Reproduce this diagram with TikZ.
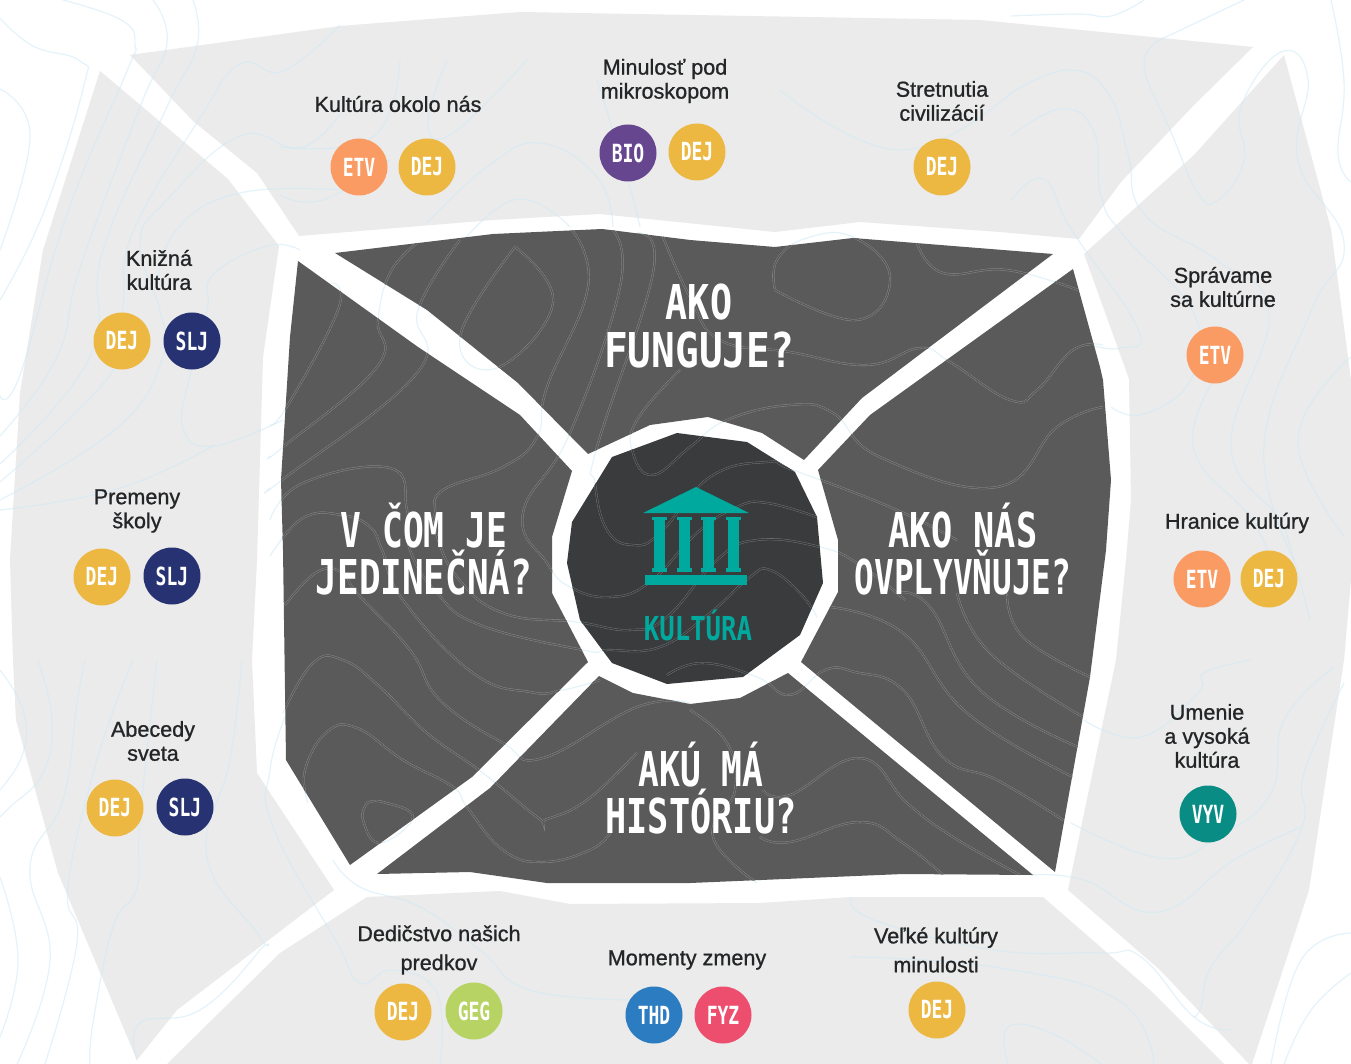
\documentclass[tikz,border=0pt]{standalone}
\usepackage{fontspec}
\setmainfont{Liberation Sans}[FakeBold=0.9]
\newfontfamily\disp{DejaVu Sans Mono}[FakeStretch=0.72]
\definecolor{grey}{HTML}{EBEBEB}
\definecolor{darkp}{HTML}{595A59}
\definecolor{centerp}{HTML}{3A3B3D}
\definecolor{teal}{HTML}{00A99D}
\definecolor{cETV}{HTML}{FA9B63}
\definecolor{cDEJ}{HTML}{ECB842}
\definecolor{cBIO}{HTML}{66478F}
\definecolor{cSLJ}{HTML}{273272}
\definecolor{cVYV}{HTML}{088C84}
\definecolor{cGEG}{HTML}{B7D364}
\definecolor{cTHD}{HTML}{2B7CC1}
\definecolor{cFYZ}{HTML}{EE4E6E}
\definecolor{ink}{HTML}{232527}
\definecolor{faint}{HTML}{CFE9F5}
\tikzset{
  lbl/.style={inner sep=0pt,align=center,text=ink,font=\fontsize{21.6}{24}\selectfont},
  lblwide/.style={lbl,font=\fontsize{21.6}{29}\selectfont},
  head/.style={inner sep=0pt,align=center,text=white,font=\disp\bfseries\fontsize{48}{47.5}\selectfont},
  badge/.style={circle,minimum size=#1,inner sep=0pt,text=white,font=\disp\bfseries\fontsize{25}{25}\selectfont},
  badge/.default=57pt,
}
\newcommand\plotc[1]{\draw[cl] plot[smooth,tension=.75] coordinates {#1};}
\newcommand\darkc{%
\plotc{(515,247)(553,303)(497,368)(460,337)(515,247)}
\plotc{(572,230)(588,287)(547,387)(537,437)(503,467)(443,490)(435,513)(435,530)(457,577)(503,613)(577,622)(630,630)(667,617)(717,560)(757,540)(820,547)(860,565)(905,600)}
\plotc{(613,230)(620,287)(570,433)(523,513)(547,563)(570,587)(610,597)(650,582)(697,533)(737,507)(767,503)(817,517)}
\plotc{(637,233)(653,273)(597,447)(595,483)(607,530)(633,545)(660,533)(710,477)(767,462)(793,470)(890,507)(957,540)}
\plotc{(663,237)(690,297)(720,340)(790,352)(867,365)(920,348)(950,362)(1010,400)(1037,390)(1073,350)(1103,345)}
\plotc{(680,370)(637,420)(633,453)(653,475)(690,447)(727,420)(790,405)(833,413)(880,457)(997,487)(1057,427)(1103,407)}
\plotc{(333,283)(338,310)(288,405)(270,425)}
\plotc{(417,243)(390,273)(378,320)(377,367)(283,447)(270,456)}
\plotc{(460,240)(418,310)(417,373)(282,480)(270,488)}
\plotc{(270,520)(303,483)(390,468)(407,510)(410,550)(437,593)(480,625)(583,650)(607,650)(660,647)(710,613)(750,577)(770,570)(800,593)(817,617)}
\plotc{(270,556)(303,518)(342,515)(370,527)(382,550)(403,600)(473,673)(530,692)(563,690)(600,680)}
\plotc{(285,605)(317,572)(343,573)(357,593)(410,650)(440,700)(503,743)(543,758)(637,707)(690,703)}
\plotc{(283,713)(313,663)(343,660)(380,687)(427,733)(483,773)(537,817)(547,819)(587,800)(637,753)}
\plotc{(308,803)(305,770)(327,732)(357,728)(403,760)(453,787)(467,807)(503,850)(543,862)(590,850)(610,833)}
\plotc{(367,803)(363,820)(380,843)(413,817)(383,802)(367,803)}
\plotc{(917,243)(943,273)(1007,270)(1078,290)}
\plotc{(775,290)(777,260)(807,238)(853,237)(890,277)(857,320)(775,290)}
\plotc{(1007,593)(1023,637)(1090,677)}
\plotc{(957,593)(990,653)(1083,717)}
\plotc{(897,593)(930,607)(980,690)(1078,747)}
\plotc{(830,607)(903,633)(967,713)(1073,777)}
\plotc{(667,675)(703,663)(757,677)(790,695)(825,670)(855,672)(903,690)(943,757)(997,780)(1063,820)}
\plotc{(763,790)(790,795)(860,758)(907,803)(953,837)(1020,875)}
\plotc{(760,837)(790,842)(860,822)(903,843)(943,875)}
\plotc{(690,710)(727,743)(735,790)(713,837)(757,883)}
}
\newcommand\bluec{%
\plotc{(0,18)(33,46)(80,61)(83,89)(43,214)(0,300)}
\plotc{(63,0)(123,21)(135,46)(127,71)(67,214)(20,375)(0,396)}
\plotc{(153,0)(167,43)(140,107)(80,268)(57,357)(0,436)}
\plotc{(193,0)(197,46)(167,107)(103,250)(90,357)(0,464)}
\plotc{(0,89)(30,136)(0,250)}
\plotc{(340,25)(283,71)(240,64)(200,118)(133,232)(123,304)(113,371)(0,482)}
\plotc{(340,114)(300,148)(240,136)(167,200)(140,243)(160,311)(163,357)(117,428)(0,500)}
\plotc{(340,190)(240,193)(177,229)(157,286)}
\plotc{(300,250)(267,246)(213,275)(207,311)(190,375)(183,428)(213,446)(283,420)}
\plotc{(213,446)(117,489)(0,510)}
\plotc{(1011,93)(1068,70)(1108,93)(1128,154)(1144,214)(1218,261)(1269,314)(1231,446)(1278,518)(1294,560)(1310,620)}
\plotc{(1011,136)(1061,109)(1094,132)(1101,196)(1124,236)(1194,314)(1191,379)(1144,414)(1111,407)}
\plotc{(1011,200)(1044,179)(1071,229)(1138,329)(1121,348)(1091,345)}
\plotc{(1168,36)(1144,64)(1171,132)(1198,193)(1218,200)(1244,161)(1241,107)(1281,52)(1308,79)(1298,161)(1344,243)(1311,311)(1264,446)(1294,560)}
\plotc{(1224,364)(1193,446)(1251,518)(1270,560)}
\plotc{(1351,357)(1298,439)(1344,536)}
\plotc{(1331,0)(1344,82)(1338,154)(1351,182)}
\plotc{(1011,16)(1078,14)(1111,16)(1144,0)}
\plotc{(1168,36)(1244,0)}
\plotc{(1344,683)(1304,773)(1301,830)(1248,920)(1211,967)(1201,1007)(1194,1017)}
\plotc{(1084,720)(1141,737)(1198,693)(1204,673)(1251,660)}
\plotc{(1071,823)(1161,858)(1218,837)(1271,793)(1284,720)(1334,667)}
\plotc{(1031,875)(1084,880)(1158,912)(1234,860)(1301,827)}
\plotc{(851,957)(994,967)(1118,1000)(1154,1064)}
\plotc{(851,898)(874,920)(994,950)(1101,953)(1141,957)(1194,1017)(1230,1030)}
\plotc{(1271,1064)(1301,960)(1351,933)}
\plotc{(1284,1064)(1311,1010)(1351,973)}
\plotc{(1008,1064)(1008,1027)(1051,1033)(1101,1064)}
\plotc{(38,660)(52,720)(43,773)(10,807)(0,817)}
\plotc{(85,660)(77,703)(63,800)(30,867)(50,960)(17,1064)}
\plotc{(133,660)(97,760)(68,887)(77,943)(45,1064)}
\plotc{(157,660)(140,820)(137,887)(113,927)(93,1023)(90,1064)}
\plotc{(242,660)(230,760)(207,857)(260,937)(260,950)(200,1010)(140,1023)(137,1060)}
\plotc{(285,717)(270,770)(273,827)(337,943)(360,983)(393,970)(437,993)(440,1064)}
\plotc{(333,860)(360,887)(420,907)(480,950)(530,990)(640,1000)}
\plotc{(0,670)(23,710)(23,753)(0,790)}
\plotc{(0,877)(18,960)(0,1037)}
\plotc{(400,60)(373,137)(280,147)}
\plotc{(447,60)(428,123)(453,133)(527,60)}
\plotc{(280,195)(323,200)(390,160)}
\plotc{(427,223)(487,167)(540,143)(597,177)(613,227)}
\plotc{(447,260)(513,200)(570,227)}
\plotc{(597,80)(627,177)(640,227)}
\plotc{(780,90)(900,150)(1011,93)}
}
\begin{document}
\begin{tikzpicture}[x=1pt,y=-1pt,line join=miter]
\useasboundingbox (0,0) rectangle (1351,1064);
\clip (0,0) rectangle (1351,1064);
\fill[white] (0,0) rectangle (1351,1064);
% outer grey panels
\fill[grey] (130,55)--(340,26)--(520,12)--(980,20)--(1253,47)--(1194,105)--(1121,182)--(1079,239)--(1000,232)--(860,222)--(775,232)--(600,214)--(493,220)--(299,236)--(257,173)--(193,121)--cycle;
\fill[grey] (100,71)--(228,179)--(279,246)--(263,357)--(257,560)--(252,660)--(257,773)--(334,890)--(177,1010)--(137,1060)--(58,873)--(16,720)--(13,660)--(10,560)--(20,393)--(43,250)--cycle;
\fill[grey] (1284,55)--(1331,229)--(1351,380)--(1351,580)--(1344,660)--(1309,890)--(1252,1064)--(1249,1064)--(1160,970)--(1068,890)--(1116,660)--(1126,560)--(1131,500)--(1129,379)--(1084,254)--(1194,155)--cycle;
\fill[grey] (367,897)--(500,891)--(570,904)--(760,903)--(851,897)--(1043,897)--(1150,990)--(1224,1064)--(167,1064)--(280,953)--cycle;
% faint contours
\begin{scope}[cl/.style={draw=faint,line width=1.2pt,opacity=.55}]
\bluec\darkc
\end{scope}
% dark panels
\path[fill=darkp] (335,253)--(427,310)--(518,383)--(588,454)--(650,425)--(708,417)--(762,433)--(804,460)--(862,398)--(1053,254)--(853,238)--(775,247)--(690,240)--(602,229)--(493,234)--cycle;
\path[fill=darkp] (298,261)--(418,347)--(520,415)--(572,471)--(552,537)--(552,593)--(588,662)--(472,777)--(350,865)--(286,760)--(283,550)--(281,480)--(290,337)--cycle;
\path[fill=darkp] (1073,269)--(1100,367)--(1103,380)--(1111,480)--(1106,550)--(1090,677)--(1055,872)--(801,662)--(838,592)--(838,540)--(818,470)--(870,415)--cycle;
\path[fill=darkp] (377,874)--(470,872)--(547,883)--(690,883)--(903,874)--(1033,875)--(788,673)--(740,698)--(690,704)--(633,693)--(599,676)--(490,788)--cycle;
\path[fill=centerp] (677,433)--(747,442)--(795,472)--(817,517)--(823,583)--(800,635)--(743,677)--(667,684)--(612,663)--(580,620)--(567,563)--(572,522)--(612,457)--cycle;
% contours on the dark panels
\begin{scope}
\clip (335,253)--(427,310)--(518,383)--(588,454)--(650,425)--(708,417)--(762,433)--(804,460)--(862,398)--(1053,254)--(853,238)--(775,247)--(690,240)--(602,229)--(493,234)--cycle
 (298,261)--(418,347)--(520,415)--(572,471)--(552,537)--(552,593)--(588,662)--(472,777)--(350,865)--(286,760)--(283,550)--(281,480)--(290,337)--cycle
 (1073,269)--(1100,367)--(1103,380)--(1111,480)--(1106,550)--(1090,677)--(1055,872)--(801,662)--(838,592)--(838,540)--(818,470)--(870,415)--cycle
 (377,874)--(470,872)--(547,883)--(690,883)--(903,874)--(1033,875)--(788,673)--(740,698)--(690,704)--(633,693)--(599,676)--(490,788)--cycle;
\begin{scope}[cl/.style={draw=white!38!darkp,line width=.3pt,double=darkp,double distance=1.4pt}]
\darkc
\end{scope}
\end{scope}
\begin{scope}
\clip (677,433)--(747,442)--(795,472)--(817,517)--(823,583)--(800,635)--(743,677)--(667,684)--(612,663)--(580,620)--(567,563)--(572,522)--(612,457)--cycle;
\begin{scope}[cl/.style={draw=white!38!centerp,line width=.3pt,double=centerp,double distance=1.4pt}]
\darkc
\end{scope}
\end{scope}
% temple icon
\fill[teal] (643,513)--(696,487)--(749,513)--cycle;
\fill[teal] (645,575) rectangle (747,585);
\foreach \c in {659.5,684,708.5,733.5}{
  \fill[teal] (\c-7.5,517) rectangle (\c+7.5,520);
  \fill[teal] (\c-5.5,520) rectangle (\c+5.5,568);
  \fill[teal] (\c-7.5,568) rectangle (\c+7.5,572);
}
\node[inner sep=0pt,text=teal,font=\disp\bfseries\fontsize{33}{33}\selectfont] (kul) at (698,625) {\scalebox{1.08}[1]{KULTÚRA}};
% headings
\node[head] (hTop) at (699,326) {\scalebox{1.06}[1]{AKO}\\\scalebox{1.14}[1]{FUNGUJE?}};
\node[head] (hLeft) at (424,549) {V ČOM JE\\\scalebox{1.04}[1]{JEDINEČNÁ?}};
\node[head] (hRight) at (963,549) {\scalebox{1.02}[1]{AKO NÁS}\\\scalebox{.947}[1]{OVPLYVŇUJE?}};
\node[head] (hBot) at (701,788) {AKÚ MÁ\\\scalebox{1.02}[1]{HISTÓRIU?}};
% topic labels
\node[lbl] (t1) at (398,104) {Kultúra okolo nás};
\node[lbl] (t2) at (665,81) {Minulosť pod\\mikroskopom};
\node[lbl] (t3) at (942,101) {Stretnutia\\civilizácií};
\node[lbl] (t4) at (159,270) {Knižná\\kultúra};
\node[lbl] (t5) at (137,511) {Premeny\\školy};
\node[lbl] (t6) at (153,741) {Abecedy\\sveta};
\node[lbl] (t7) at (1223,287) {Správame\\sa kultúrne};
\node[lbl] (t8) at (1237,523) {Hranice kultúry};
\node[lbl] (t9) at (1207,736) {Umenie\\a vysoká\\kultúra};
\node[lblwide] (t10) at (439,950) {Dedičstvo našich\\predkov};
\node[lbl] (t11) at (687,960) {Momenty zmeny};
\node[lblwide] (t12) at (936,950) {Veľké kultúry\\minulosti};
% subject badges
\node[badge,fill=cETV] (b1) at (359,167) {ETV};
\node[badge,fill=cDEJ] (b2) at (427,167) {DEJ};
\node[badge,fill=cBIO] (b3) at (628,153) {BIO};
\node[badge,fill=cDEJ] (b4) at (697,152) {DEJ};
\node[badge,fill=cDEJ] (b5) at (942,167) {DEJ};
\node[badge,fill=cDEJ] (b6) at (122,341) {DEJ};
\node[badge,fill=cSLJ] (b7) at (192,341) {SLJ};
\node[badge,fill=cDEJ] (b8) at (102,577) {DEJ};
\node[badge,fill=cSLJ] (b9) at (172,576) {SLJ};
\node[badge,fill=cDEJ] (b10) at (115,808) {DEJ};
\node[badge,fill=cSLJ] (b11) at (185,807) {SLJ};
\node[badge,fill=cETV] (b12) at (1215,355) {ETV};
\node[badge,fill=cETV] (b13) at (1202,579) {ETV};
\node[badge,fill=cDEJ] (b14) at (1269,579) {DEJ};
\node[badge,fill=cVYV] (b15) at (1208,814) {VYV};
\node[badge,fill=cDEJ] (b16) at (403,1012) {DEJ};
\node[badge,fill=cGEG] (b17) at (474,1011) {GEG};
\node[badge,fill=cTHD] (b18) at (654,1015) {THD};
\node[badge,fill=cFYZ] (b19) at (723,1015) {FYZ};
\node[badge,fill=cDEJ] (b20) at (937,1010) {DEJ};
\end{tikzpicture}
\end{document}
